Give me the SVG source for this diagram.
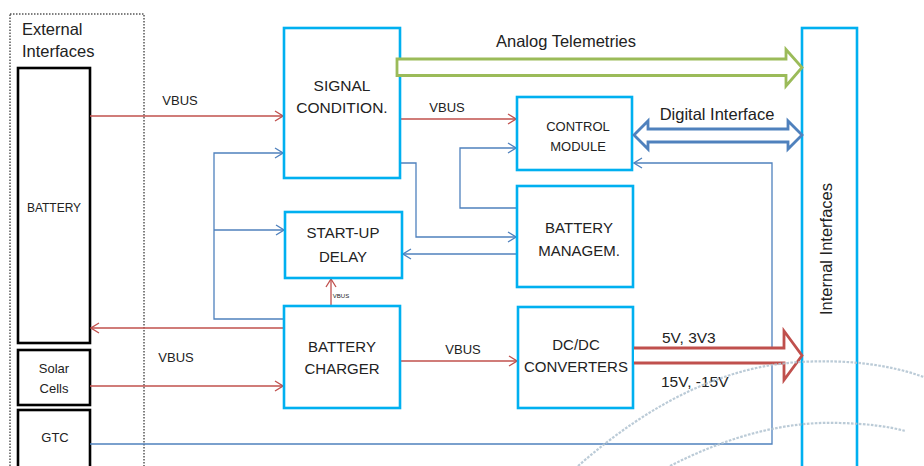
<svg xmlns="http://www.w3.org/2000/svg" width="924" height="466" viewBox="0 0 924 466">
<style>
.box{fill:#fff;stroke:#00B0F0;stroke-width:2.6}
.ext{fill:#fff;stroke:#000;stroke-width:2.6}
.t{font-family:"Liberation Sans",Arial,sans-serif;fill:#222;text-anchor:middle}
.r{fill:none;stroke:#C0504D;stroke-width:1.3}
.b{fill:none;stroke:#4F81BD;stroke-width:1.3}
.dots{fill:none;stroke:#AFC2D0;stroke-width:2.2;stroke-dasharray:2.6 1.4;opacity:0.85}
</style>
<defs>
<marker id="ar" markerWidth="10" markerHeight="12" refX="9" refY="6" orient="auto" markerUnits="userSpaceOnUse"><path d="M1,1 L9,6 L1,11" fill="none" stroke="#C0504D" stroke-width="1.3"/></marker>
<marker id="ab" markerWidth="10" markerHeight="12" refX="9" refY="6" orient="auto" markerUnits="userSpaceOnUse"><path d="M1,1 L9,6 L1,11" fill="none" stroke="#4F81BD" stroke-width="1.3"/></marker>
</defs>
<rect width="924" height="466" fill="#fff"/>
<g id="external-interfaces">
<rect x="10" y="14" width="134" height="470" fill="none" stroke="#000" stroke-width="1" stroke-dasharray="1.5 1.5"/>
<text class="t" x="22" y="35" font-size="16.5" style="text-anchor:start">External</text>
<text class="t" x="22" y="57" font-size="16.5" style="text-anchor:start">Interfaces</text>
</g>
<g id="battery"><rect class="ext" x="18" y="68" width="72" height="275"/><text class="t" x="54" y="212" font-size="12">BATTERY</text></g>
<g id="solar-cells"><rect class="ext" x="18" y="350" width="72" height="55"/><text class="t" x="54" y="373" font-size="13">Solar</text><text class="t" x="54" y="393" font-size="13">Cells</text></g>
<g id="gtc"><rect class="ext" x="18" y="410" width="72" height="70"/><text class="t" x="55" y="442" font-size="13">GTC</text></g>
<g id="connectors">
<path class="r" d="M90,116 H283" marker-end="url(#ar)"/>
<path class="r" d="M400,119 H516" marker-end="url(#ar)"/>
<path class="r" d="M284,328 H91" marker-end="url(#ar)"/>
<path class="r" d="M90,386 H283" marker-end="url(#ar)"/>
<path class="r" d="M400,361 H517" marker-end="url(#ar)"/>
<path class="r" d="M331,305 V279" marker-end="url(#ar)"/>
<path class="b" d="M284,319 H214 V153 H283" marker-end="url(#ab)"/>
<path class="b" d="M214,230 H284" marker-end="url(#ab)"/>
<path class="b" d="M400,163 H416 V237 H516" marker-end="url(#ab)"/>
<path class="b" d="M517,208 H460 V148 H516" marker-end="url(#ab)"/>
<path class="b" d="M517,254 H403" marker-end="url(#ab)"/>
<path class="b" d="M90,444 H772 V163 H634" marker-end="url(#ab)"/>
<text class="t" x="180" y="105" font-size="13">VBUS</text>
<text class="t" x="447" y="112" font-size="13">VBUS</text>
<text class="t" x="176" y="362" font-size="13">VBUS</text>
<text class="t" x="463" y="354" font-size="13">VBUS</text>
<text class="t" x="341" y="298" font-size="6">VBUS</text>
</g>
<g id="signal-condition"><rect class="box" x="284" y="28" width="116" height="150"/><text class="t" x="342" y="91" font-size="15.5">SIGNAL</text><text class="t" x="342" y="113" font-size="15.5">CONDITION.</text></g>
<g id="control-module"><rect class="box" x="517" y="97" width="115" height="73"/><text class="t" x="578" y="131" font-size="13">CONTROL</text><text class="t" x="578" y="151" font-size="13">MODULE</text></g>
<g id="battery-management"><rect class="box" x="517" y="186" width="116" height="101"/><text class="t" x="579" y="233" font-size="15">BATTERY</text><text class="t" x="579" y="256" font-size="15">MANAGEM.</text></g>
<g id="start-up-delay"><rect class="box" x="285" y="212" width="117" height="66"/><text class="t" x="343" y="238" font-size="15">START-UP</text><text class="t" x="343" y="262" font-size="15">DELAY</text></g>
<g id="battery-charger"><rect class="box" x="284" y="306" width="116" height="102"/><text class="t" x="342" y="352" font-size="15">BATTERY</text><text class="t" x="342" y="374" font-size="15">CHARGER</text></g>
<g id="dcdc-converters"><rect class="box" x="518" y="307" width="115" height="101"/><text class="t" x="576" y="350" font-size="15">DC/DC</text><text class="t" x="576" y="372" font-size="15">CONVERTERS</text></g>
<g id="internal-interfaces"><rect class="box" x="802" y="28" width="55" height="450"/><text class="t" x="0" y="0" font-size="16.5" transform="translate(832,249) rotate(-90)">Internal Interfaces</text></g>
<g id="bus-arrows">
<path d="M397,59 H786 V49.5 L802,67.5 L786,86 V75.5 H397 Z" fill="#fff" stroke="#9BBB59" stroke-width="2.8"/>
<text class="t" x="566" y="47" font-size="16.5">Analog Telemetries</text>
<path d="M634,135 L648,121 V129 H788 V121 L802,135 L788,149 V142 H648 V149 Z" fill="#fff" stroke="#4F81BD" stroke-width="2.8"/>
<text class="t" x="717" y="120" font-size="16.5">Digital Interface</text>
<path d="M634,348 H784 V331 L802,355.5 L784,380 V363 H634" fill="#fff" stroke="#C0504D" stroke-width="2.8"/>
<text class="t" x="662" y="343" font-size="15.5" style="text-anchor:start">5V, 3V3</text>
<text class="t" x="661" y="387" font-size="15.5" style="text-anchor:start">15V, -15V</text>
</g>
<g id="background-arcs">
<path class="dots" d="M578,466 Q690,368 800,362 Q870,358 924,377"/>
<path class="dots" d="M670,466 Q760,420 840,423 Q880,424 905,431"/>
</g>
</svg>
